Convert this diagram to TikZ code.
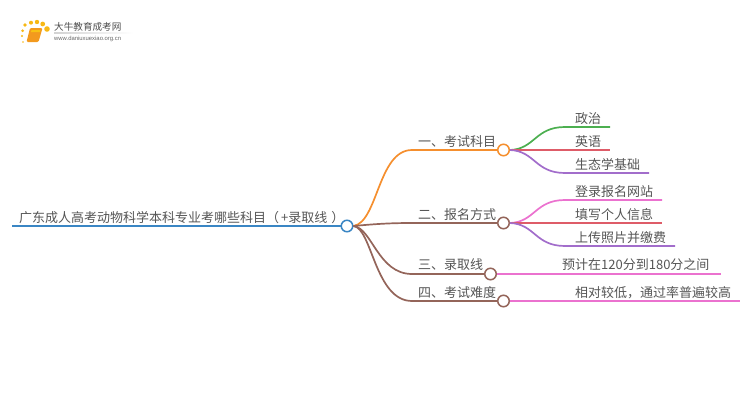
\documentclass[tikz,border=0pt]{standalone}
\usepackage{fontspec}
\setmainfont{Noto Sans CJK SC}
\setsansfont{Liberation Sans}
\usetikzlibrary{calc}
\definecolor{txtgray}{HTML}{555555}
\definecolor{lineblue}{HTML}{3A86C4}
\definecolor{lineorange}{HTML}{F58F2E}
\definecolor{linebrown}{HTML}{94655A}
\definecolor{linegreen}{HTML}{4CAF50}
\definecolor{linered}{HTML}{DE5C68}
\definecolor{linepurple}{HTML}{A26DCB}
\definecolor{linepink}{HTML}{EB72CF}
\definecolor{bookorange}{HTML}{F39A1E}

\begin{document}
\begin{tikzpicture}[x=1pt, y=-1pt]
 \tikzstyle{joint}=[circle, draw, fill=white, line width=1.5pt, inner sep=0pt, minimum size=11.5pt]
 \tikzstyle{arr}=[line width=1.7pt]
 \tikzstyle{lab}=[text=txtgray, font=\fontsize{13}{14}\selectfont, inner sep=0pt, anchor=base west]

 \useasboundingbox (0,0) rectangle (750,410);

 % Logo
 \foreach \px/\py/\ds in {23/42/0.9, 22/36/1.2, 22.7/30.7/1.5, 25/25/1.8, 31/22.7/2, 37/22/2.2, 42.7/24/2.4, 47/29/2.8}
  \fill [bookorange!70!yellow] (\px,\py) circle (\ds);
 \fill [bookorange, rounded corners=1.2pt] (30,28) -- (42.5,28) -- (38.5,42) -- (26.5,42) -- cycle;
 \fill [bookorange!60!yellow] (31.5,30) -- (40.5,30) -- (40,32) -- (31,32) -- cycle;
 \shade [left color=gray!35, right color=white] (54,32.6) rectangle (133,33.4);
 \node (nlogotitle) at (54,30.5) [anchor=base west, inner sep=0pt, text=black!70, font=\fontsize{9.6}{10}\selectfont] {大牛教育成考网};
 \node (nlogourl) at (54,40.5) [anchor=base west, inner sep=0pt, text=black!60, font=\sffamily\fontsize{5.9}{6}\selectfont] {www.daniuxuexiao.org.cn};

 % Main places
 \coordinate (nrootstart) at (12,226);
 \node (nroot) at (347,226) [joint, draw=lineblue] {};
 \node (nroottxt) at (19,222) [lab] {广东成人高考动物科学本科专业考哪些科目（\hspace{2pt}+录取线\hspace{4pt}）};

 \node (nexam) at (503.5,150) [joint, draw=lineorange] {};
 \node (nsign) at (503.5,223) [joint, draw=linebrown] {};
 \node (nline) at (490.5,274) [joint, draw=linebrown] {};
 \node (nhard) at (503.5,301) [joint, draw=linebrown] {};

 \coordinate (nexambend) at (412,150);
 \coordinate (nsignbend) at (412,223);
 \coordinate (nlinebend) at (412,274);
 \coordinate (nhardbend) at (412,301);

 \node (nexamtxt) at (418,146) [lab] {一、考试科目};
 \node (nsigntxt) at (418,219) [lab] {二、报名方式};
 \node (nlinetxt) at (418,269) [lab] {三、录取线};
 \node (nhardtxt) at (418,297) [lab] {四、考试难度};

 % Leaves
 \coordinate (npolbend) at (565,127);
 \coordinate (nengbend) at (565,150);
 \coordinate (nbiobend) at (565,173);
 \coordinate (nwebbend) at (565,200);
 \coordinate (nformbend) at (565,223);
 \coordinate (nfeebend) at (565,246);
 \coordinate (npol) at (610,127);
 \coordinate (neng) at (610,150);
 \coordinate (nbio) at (649,173);
 \coordinate (nweb) at (662,200);
 \coordinate (nform) at (662,223);
 \coordinate (nfee) at (675,246);
 \coordinate (nscore) at (721,274);
 \coordinate (nrate) at (740,301);

 \node (npoltxt) at (575,123) [lab] {政治};
 \node (nengtxt) at (575,146) [lab] {英语};
 \node (nbiotxt) at (575,169) [lab] {生态学基础};
 \node (nwebtxt) at (575,196) [lab] {登录报名网站};
 \node (nformtxt) at (575,219) [lab] {填写个人信息};
 \node (nfeetxt) at (575,242) [lab] {上传照片并缴费};
 \node (nscoretxt) at (562,269) [lab] {预计在120分到180分之间};
 \node (nratetxt) at (575,297) [lab] {相对较低，通过率普遍较高};

 % Root line
 \draw [arr, lineblue] (nrootstart) -- (nroot.west);

 % Main branches
 \draw [arr, lineorange] (nroot.east) .. controls (378,222) and (378,150) .. (nexambend) -- (nexam.west);
 \draw [arr, linebrown] (nroot.east) .. controls (375,224) and (390,223) .. (nsignbend) -- (nsign.west);
 \draw [arr, linebrown] (nroot.east) .. controls (372,228) and (378,274) .. (nlinebend) -- (nline.west);
 \draw [arr, linebrown] (nroot.east) .. controls (372,228) and (375,301) .. (nhardbend) -- (nhard.west);

 % Leaf branches
 \draw [arr, linegreen] (nexam.east) .. controls (535,149) and (535,127) .. (npolbend) -- (npol);
 \draw [arr, linered] (nexam.east) -- (nengbend) -- (neng);
 \draw [arr, linepurple] (nexam.east) .. controls (535,151) and (535,173) .. (nbiobend) -- (nbio);
 \draw [arr, linepink] (nsign.east) .. controls (535,222) and (535,200) .. (nwebbend) -- (nweb);
 \draw [arr, linered] (nsign.east) -- (nformbend) -- (nform);
 \draw [arr, linepurple] (nsign.east) .. controls (535,224) and (535,246) .. (nfeebend) -- (nfee);
 \draw [arr, linepink] (nline.east) -- (nscore);
 \draw [arr, linepink] (nhard.east) -- (nrate);
\end{tikzpicture}
\end{document}
